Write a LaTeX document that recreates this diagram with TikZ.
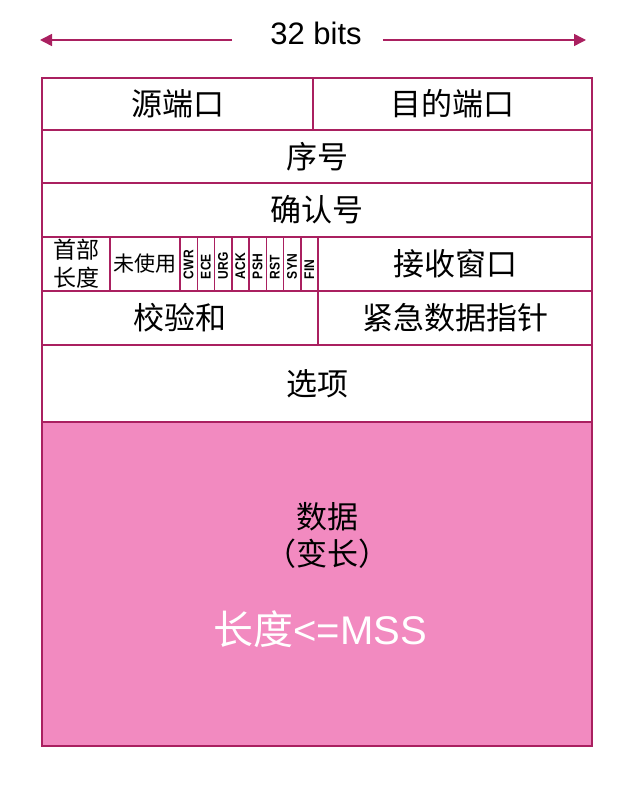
\documentclass[tikz,border=0pt]{standalone}
\usepackage{fontspec}
\setmainfont{Liberation Sans}
\newfontfamily\cjk{Noto Sans CJK SC}
\usepackage{graphicx}
\usetikzlibrary{arrows.meta, positioning}
\definecolor{tcpline}{RGB}{170,32,96}
\definecolor{tcpfill}{RGB}{242,138,192}

\begin{document}
\begin{tikzpicture}[
        x=1pt, y=-1pt,
        node distance=0pt,
        every node/.style={font=\cjk\fontsize{31}{37}\selectfont},
        cell/.style={rectangle, draw=tcpline, line width=1.5pt, inner sep=0pt, outer sep=0pt, minimum height=54pt, anchor=north west, align=center},
        flag/.style={cell, minimum width=17.25pt, font=\rmfamily\bfseries\fontsize{14}{16}\selectfont},
        arrow/.style={-{Triangle[length=12pt,width=12pt]}, line width=1.5pt, tcpline}
    ]
        \useasboundingbox (0,0) rectangle (637,810);
        % width label
        \node[inner sep=0pt, font=\rmfamily\fontsize{31}{36}\selectfont] (bits) at (316,33) {32 bits};
        \coordinate (ltip) at (40,40);
        \coordinate (rtip) at (586,40);
        \draw[arrow, shorten <=38pt] (bits.west |- ltip) -- (ltip);
        \draw[arrow, shorten <=21pt] (bits.east |- rtip) -- (rtip);
        % header rows
        \node[cell, minimum width=271pt, minimum height=52pt] (src) at (42,78) {源端口};
        \node[cell, right=0pt of src.north east, anchor=north west, minimum width=279pt, minimum height=52pt] (dst) {目的端口};
        \node[cell, below=0pt of src.south west, anchor=north west, minimum width=550pt, minimum height=53pt] (seq) {序号};
        \node[cell, below=0pt of seq.south west, anchor=north west, minimum width=550pt] (ack) {确认号};
        \node[cell, below=0pt of ack.south west, anchor=north west, minimum width=68pt, font=\cjk\fontsize{23}{28}\selectfont] (hlen) {首部\\长度};
        \node[cell, right=0pt of hlen.north east, anchor=north west, minimum width=70pt, font=\cjk\fontsize{21}{26}\selectfont] (unused) {未使用};
        \foreach \f [count=\i] in {CWR,ECE,URG,ACK,PSH,RST,SYN,FIN}
            \node[flag] (f\i) at ({180+(\i-1)*17.25},237) {\rotatebox{90}{\makebox[30pt][l]{\scalebox{0.86}[1]{\f}}}};
        \node[cell, right=0pt of f8.north east, anchor=north west, minimum width=274pt] (win) {接收窗口};
        \node[cell, below=0pt of hlen.south west, anchor=north west, minimum width=276pt] (cks) {校验和};
        \node[cell, right=0pt of cks.north east, anchor=north west, minimum width=274pt] (urp) {紧急数据指针};
        \node[cell, below=0pt of cks.south west, anchor=north west, minimum width=550pt, minimum height=77pt] (opt) {选项};
        % payload
        \node[cell, fill=tcpfill, below=0pt of opt.south west, anchor=north west, minimum width=550pt, minimum height=324pt] (data) {};
        \node[align=center] (dtext) at (327,535) {数据\\（变长）};
        \node[text=white, font=\cjk\fontsize{40}{46}\selectfont] (mss) at (320,629) {长度{\rmfamily<=MSS}};
    \end{tikzpicture}
\end{document}
